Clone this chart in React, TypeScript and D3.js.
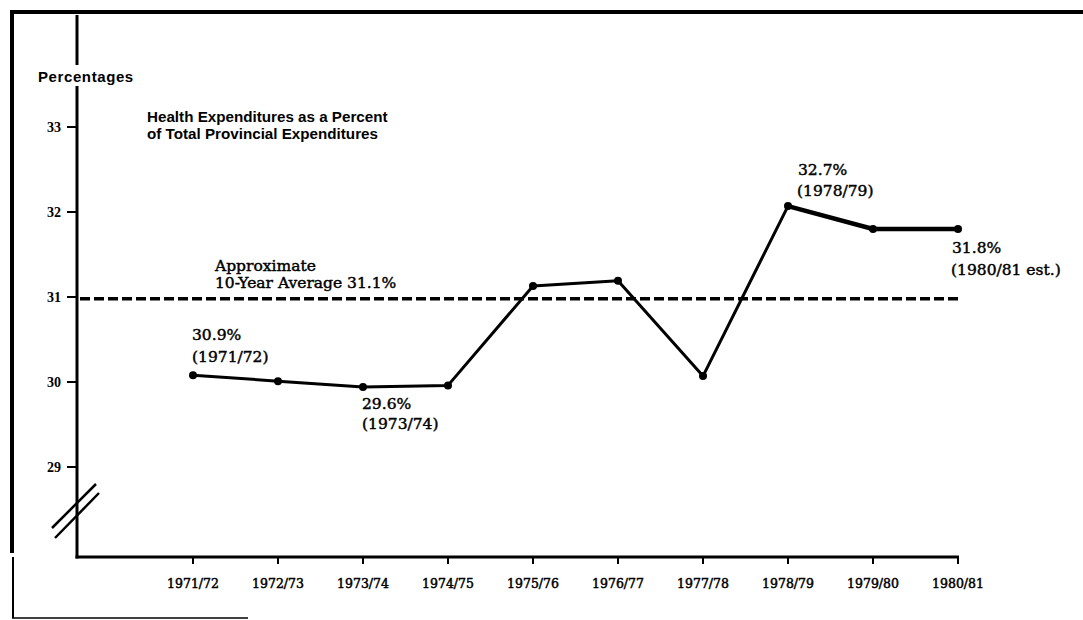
import React from "react";
import * as d3 from "d3";

const categories = ["1971/72","1972/73","1973/74","1974/75","1975/76","1976/77","1977/78","1978/79","1979/80","1980/81"];
const values = [30.08, 30.01, 29.94, 29.96, 31.13, 31.19, 30.07, 32.07, 31.8, 31.8];
const yTicks = [29, 30, 31, 32, 33];
const averageValue = 30.98;
const titleLines = ["Health Expenditures as a Percent", "of Total Provincial Expenditures"];

const W = 1083, H = 620;

export default function App() {
  const x = d3.scalePoint<string>().domain(categories).range([193, 958]).padding(0);
  const y = d3.scaleLinear().domain([29, 33]).range([467, 127]);
  const axisX = 77, axisY = 557;
  const pts = categories.map((c, i) => [x(c) as number, y(values[i])] as [number, number]);
  const line = d3.line();
  const serif = "'Liberation Serif', 'DejaVu Serif', serif";
  const wideSerif = "'DejaVu Serif', 'Liberation Serif', serif";
  const sans = "'Liberation Sans', Arial, sans-serif";

  const notes: [string, number, number][] = [
    ["Approximate", 215, 271],
    ["10-Year Average 31.1%", 215, 288],
    ["30.9%", 192, 340],
    ["(1971/72)", 192, 362],
    ["29.6%", 362, 409],
    ["(1973/74)", 362, 429],
    ["32.7%", 798, 175],
    ["(1978/79)", 797, 196],
    ["31.8%", 952, 253],
    ["(1980/81 est.)", 951, 275],
  ];

  return (
    <svg width={W} height={H} style={{ position: "absolute", left: 0, top: 0, background: "#fff" }}>
      <rect x={0} y={0} width={W} height={H} fill="#fff" />
      {/* border */}
      <line x1={10} y1={12} x2={W} y2={12} stroke="#000" strokeWidth={4} />
      <line x1={12} y1={10} x2={12} y2={553} stroke="#000" strokeWidth={4} />
      <line x1={13} y1={557} x2={13} y2={618} stroke="#000" strokeWidth={2} />
      <line x1={12} y1={618} x2={248} y2={618} stroke="#000" strokeWidth={1.5} />

      {/* y axis */}
      <line x1={axisX} y1={15} x2={axisX} y2={65} stroke="#000" strokeWidth={3} />
      <line x1={axisX} y1={86} x2={axisX} y2={axisY + 1.5} stroke="#000" strokeWidth={3} />
      <text x={38} y={82} fontFamily={sans} fontWeight="bold" fontSize={15} letterSpacing={0.6}>Percentages</text>
      {yTicks.map(t => (
        <g key={t}>
          <line x1={axisX - 10} y1={y(t)} x2={axisX} y2={y(t)} stroke="#000" strokeWidth={2} />
          <text x={61} y={y(t) + 5} textAnchor="end" fontFamily={serif} fontWeight="bold" fontSize={14}>{t}</text>
        </g>
      ))}
      {/* break marks */}
      <line x1={52} y1={528} x2={96} y2={484} stroke="#000" strokeWidth={2.5} />
      <line x1={55} y1={538} x2={99} y2={493} stroke="#000" strokeWidth={2.5} />

      {/* x axis */}
      <line x1={axisX - 1.5} y1={axisY} x2={959} y2={axisY} stroke="#000" strokeWidth={3} />
      {categories.map(c => (
        <g key={c}>
          <line x1={x(c)} y1={axisY} x2={x(c)} y2={axisY + 7} stroke="#000" strokeWidth={2} />
          <text x={x(c)} y={588} textAnchor="middle" fontFamily={wideSerif} fontSize={12.5} stroke="#000" strokeWidth={0.5}>{c}</text>
        </g>
      ))}

      {/* average dashed line */}
      <line x1={80} y1={y(averageValue)} x2={958} y2={y(averageValue)} stroke="#000" strokeWidth={3.5} strokeDasharray="10,4" />

      {/* data line */}
      <path d={line(pts.slice(0, 8)) || ""} fill="none" stroke="#000" strokeWidth={3} strokeLinejoin="round" />
      <path d={line(pts.slice(7)) || ""} fill="none" stroke="#000" strokeWidth={4.5} strokeLinejoin="round" />
      {pts.map((p, i) => <circle key={i} cx={p[0]} cy={p[1]} r={4} fill="#000" />)}

      {/* title */}
      <text fontFamily={sans} fontWeight="bold" fontSize={15.2}>
        <tspan x={147} y={122}>{titleLines[0]}</tspan>
        <tspan x={147} y={139}>{titleLines[1]}</tspan>
      </text>

      {/* annotations */}
      <g fontFamily={wideSerif} fontSize={15.5} stroke="#000" strokeWidth={0.45}>
        {notes.map(([t, nx, ny]) => <text key={t} x={nx} y={ny}>{t}</text>)}
      </g>
    </svg>
  );
}
